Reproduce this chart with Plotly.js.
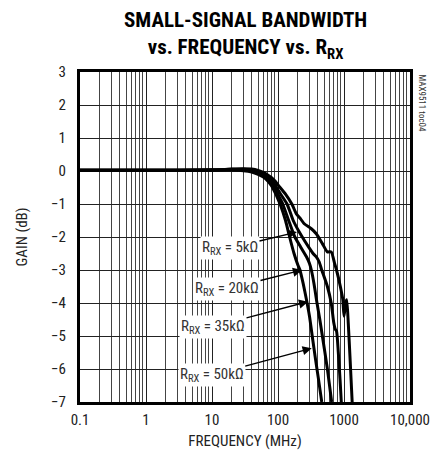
<!DOCTYPE html>
<html>
<head>
<meta charset="utf-8">
<script src="https://cdn.plot.ly/plotly-3.0.1.min.js"></script>
<style>
html,body{margin:0;padding:0;background:#fff;}
#chart{width:435px;height:460px;}
</style>
</head>
<body>
<div id="chart"></div>
<script>
// Frequency (MHz) and gain (dB)
const freq50k = [0.1, 1, 10, 20, 30, 40, 50, 60, 70, 80, 90, 100, 110, 130, 150, 175, 200, 215, 240, 270, 300, 330, 370, 410, 460];
const gain50k = [0.02, 0.02, 0.03, 0.03, 0.01, -0.03, -0.1, -0.18, -0.3, -0.45, -0.65, -0.85, -1.05, -1.5, -2.0, -2.5, -2.85, -3.0, -3.4, -3.9, -4.4, -5.0, -5.7, -6.3, -7.0];

const freq35k = [0.1, 1, 10, 20, 30, 40, 50, 60, 70, 80, 90, 100, 118, 145, 180, 220, 270, 300, 320, 350, 390, 430, 470, 560, 650];
const gain35k = [0.02, 0.02, 0.03, 0.04, 0.03, 0.0, -0.07, -0.14, -0.24, -0.37, -0.55, -0.72, -1.0, -1.5, -2.0, -2.3, -2.6, -2.8, -3.0, -3.4, -4.0, -4.5, -5.0, -6.0, -7.0];

const freq20k = [0.1, 1, 10, 20, 30, 40, 50, 60, 70, 80, 90, 100, 137, 170, 210, 250, 290, 340, 380, 420, 460, 560, 640, 700, 740, 770, 820, 870, 910];
const gain20k = [0.02, 0.02, 0.03, 0.05, 0.05, 0.03, -0.03, -0.1, -0.18, -0.28, -0.42, -0.58, -1.0, -1.5, -1.85, -2.1, -2.3, -2.5, -2.6, -2.75, -3.0, -3.5, -4.0, -4.6, -4.8, -4.85, -5.5, -6.3, -7.0];

const freq5k = [0.1, 1, 10, 20, 30, 40, 50, 60, 70, 80, 90, 100, 130, 162, 190, 220, 250, 320, 380, 470, 560, 640, 720, 770, 880, 960, 1000, 1060, 1100, 1160, 1230, 1330];
const gain5k = [0.02, 0.02, 0.03, 0.06, 0.07, 0.06, 0.02, -0.04, -0.12, -0.2, -0.3, -0.42, -0.7, -1.0, -1.3, -1.45, -1.6, -1.75, -1.9, -2.2, -2.45, -2.45, -2.8, -3.0, -3.5, -3.9, -4.4, -4.0, -3.9, -4.6, -5.6, -7.0];

const xTickVals = [0.1, 1, 10, 100, 1000, 10000];
const xTickText = ['0.1', '1', '10', '100', '1000', '10,000'];
const yTickVals = [3, 2, 1, 0, -1, -2, -3, -4, -5, -6, -7];

const labelText = ['R<sub>RX</sub> = 5kΩ', 'R<sub>RX</sub> = 20kΩ', 'R<sub>RX</sub> = 35kΩ', 'R<sub>RX</sub> = 50kΩ'];
const labelTipFreq = [194, 231, 285, 324];
const labelTipGain = [-1.85, -3.0, -3.96, -5.37];
const labelOffX = [-67, -75, -95, -100];
const labelOffY = [16, 19, 25, 27];

const chartTitle = '<b>SMALL-SIGNAL BANDWIDTH</b><br><b>vs. FREQUENCY vs. R<sub>RX</sub></b>';

const font = '"Liberation Sans Narrow", "Arial Narrow", "Roboto Condensed", Roboto, sans-serif';
const lineStyle = {color: '#000', width: 3};

const series = [[freq5k, gain5k], [freq20k, gain20k], [freq35k, gain35k], [freq50k, gain50k]];
const traces = series.map(s => ({
  x: s[0], y: s[1], type: 'scatter', mode: 'lines',
  line: Object.assign({}, lineStyle, {shape: 'spline', smoothing: 0.6}),
  hoverinfo: 'skip', showlegend: false
}));

const annotations = labelText.map((t, i) => ({
  x: Math.log10(labelTipFreq[i]), y: labelTipGain[i], xref: 'x', yref: 'y',
  text: t, showarrow: true, ax: labelOffX[i], ay: labelOffY[i],
  arrowhead: 2, arrowsize: 1.3, arrowwidth: 1.4, arrowcolor: '#000', standoff: 0,
  bgcolor: '#fff', borderpad: 1,
  font: {family: font, size: 15, color: '#333'}
}));
annotations.push({
  xref: 'paper', yref: 'paper', x: 1.035, y: 1.0, xanchor: 'center', yanchor: 'top',
  text: 'MAX9511 toc04', showarrow: false, textangle: 90,
  font: {family: font, size: 9, color: '#333'}
});
// chart title (two lines, bold condensed)
annotations.push({
  xref: 'paper', yref: 'paper', x: 0.5, y: 1, xanchor: 'center', yanchor: 'bottom',
  yshift: 7, showarrow: false, text: chartTitle, align: 'center',
  font: {family: font, size: 21, color: '#000'}
});

const layout = {
  width: 435, height: 460,
  margin: {l: 80, r: 25, t: 72, b: 58},
  paper_bgcolor: '#fff', plot_bgcolor: '#fff',
  xaxis: {
    type: 'log', range: [-1, 4],
    tickvals: xTickVals, ticktext: xTickText,
    showgrid: true, gridcolor: '#222', gridwidth: 1,
    minor: {showgrid: true, gridcolor: '#444', gridwidth: 1, dtick: 'D1', ticks: ''},
    showline: true, linecolor: '#000', linewidth: 3, mirror: true,
    ticks: '', ticklabelstandoff: 2,
    tickfont: {family: font, size: 15, color: '#222'},
    title: {text: 'FREQUENCY (MHz)', font: {family: font, size: 15, color: '#222'}, standoff: 8},
    zeroline: false, fixedrange: true
  },
  yaxis: {
    range: [-7, 3], tickvals: yTickVals,
    showgrid: true, gridcolor: '#222', gridwidth: 1,
    showline: true, linecolor: '#000', linewidth: 3, mirror: true,
    ticks: '', ticklabelstandoff: 8,
    tickfont: {family: font, size: 15, color: '#222'},
    title: {text: 'GAIN (dB)', font: {family: font, size: 15, color: '#222'}, standoff: 20},
    zeroline: false, fixedrange: true
  },
  annotations: annotations
};

Plotly.newPlot('chart', traces, layout, {displayModeBar: false, staticPlot: true});
</script>
</body>
</html>
